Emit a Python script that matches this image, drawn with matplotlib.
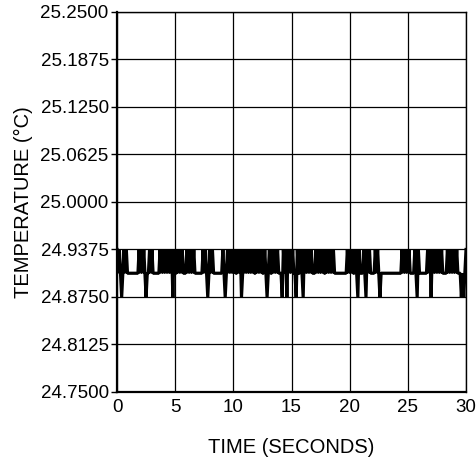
import numpy as np
import matplotlib
matplotlib.use("Agg")
import matplotlib.pyplot as plt

plt.rcParams["font.family"] = ["Liberation Sans", "DejaVu Sans"]

# one character per 0.1 s sample, one row per 3 s:
# "u" = 24.9375, "." = 24.90625, "d" = 24.875
sample_step = 0.1
sample_rows = [
    "u.u.d.u.u..........u.u.u.d..u.",
    "u......u.u.u.u.u.udu..u.u.u...",
    "u.u.u.u.......u.u.d.u.u.......",
    ".u.d.u.u.u.u..u.ud.u.u.u.u.u..",
    "u.u.u..u.d.u..u.u.u...du.udu.u",
    ".u..du..u.du.u.u.u...u.u.u.u..",
    "u.u.u.u...........u.u.u..u.du.",
    "..u.du.u....u.u.d.............",
    ".....u.u.u.u....u.du.......u.u",
    "du.u.u.u.u....u.u.u.u.u...d.d.",
    "u",
]
level_temps = {"u": 24.9375, ".": 24.90625, "d": 24.875}

y_ticks = [24.75, 24.8125, 24.875, 24.9375, 25.0, 25.0625, 25.125, 25.1875, 25.25]
x_ticks = [0, 5, 10, 15, 20, 25, 30]

codes = "".join(sample_rows)
assert len(codes) == 301, len(codes)
times = np.arange(len(codes)) * sample_step
temps = [level_temps[c] for c in codes]

fig = plt.figure(figsize=(4.77, 4.61), dpi=100)
ax = fig.add_axes([0.2453, 0.1497, 0.7317, 0.8243])

ax.plot(times, temps, color="black", linewidth=2.3, solid_joinstyle="bevel")

ax.set_xlim(0, 30)
ax.set_ylim(24.75, 25.25)
ax.set_xticks(x_ticks)
ax.set_yticks(y_ticks)
ax.set_yticklabels([f"{v:.4f}" for v in y_ticks])
ax.grid(True, color="black", linewidth=0.9)
ax.tick_params(axis="y", length=4, width=1, direction="out", labelsize=13.5, pad=2)
ax.tick_params(axis="x", length=0, labelsize=13.5, pad=5)
for side in ["left", "bottom"]:
    ax.spines[side].set_linewidth(1.6)
for side in ["top", "right"]:
    ax.spines[side].set_linewidth(1.0)

ax.set_xlabel("TIME (SECONDS)", fontsize=14.5, labelpad=16)
ax.set_ylabel("TEMPERATURE (°C)", fontsize=14.5, labelpad=5)

fig.savefig("out.png", dpi=100)
